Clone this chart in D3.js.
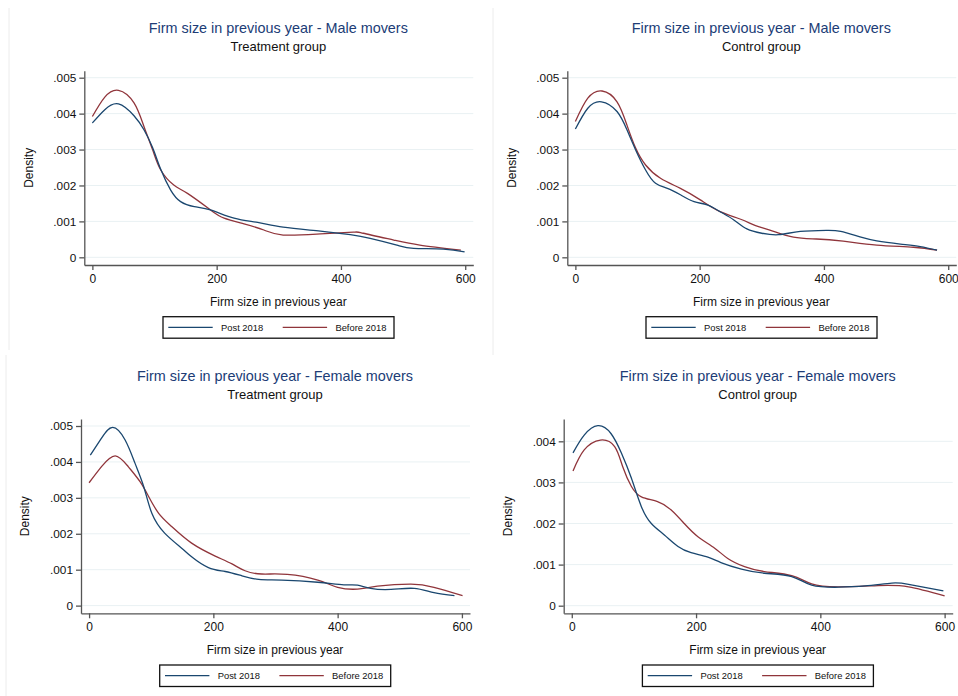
<!DOCTYPE html>
<meta charset="utf-8">
<style>
body { margin: 0; background: #fff; }
text { font-family: "Liberation Sans", Arial, sans-serif; fill: #111; }
.grid line { stroke: #e9f1f3; stroke-width: 1px; }
.axis path, .axis line { stroke: #555; stroke-width: 1.3px; }
.title { fill: #203c76; font-size: 14.4px; text-anchor: middle; }
.subtitle { font-size: 13px; text-anchor: middle; }
.axlab { font-size: 12px; text-anchor: middle; }
.legend text { font-size: 9.4px; }
</style>
<svg width="958" height="696"></svg>
<script src="https://d3js.org/d3.v7.min.js"></script>
<script>

// densities: [firm size, density]
var maleTreatPost = [[0,.00374],[20,.00411],[42,.00427],[67,.00394],[83,.00355],[97,.00305],[110,.00245],[126,.00187],[142,.00155],[164,.00141],[190,.00132],[228,.00109],[266,.00097],[307,.00084],[367,.00073],[415,.00063],[447,.00053],[490,.00034],[517,.00025],[565,.00023],[599,.00015]];
var maleTreatBefore = [[0,.00392],[20,.00446],[42,.00465],[67,.00430],[83,.00364],[97,.00299],[110,.00243],[131,.00201],[153,.00178],[190,.00132],[212,.00109],[244,.00093],[276,.00076],[307,.00062],[367,.00065],[420,.00070],[436,.00067],[485,.00048],[527,.00034],[593,.00020]];

var maleCtrlPost = [[0,.00357],[20,.00415],[42,.00433],[67,.00406],[83,.00355],[97,.00299],[113,.00243],[129,.00206],[148,.00192],[169,.00174],[191,.00155],[212,.00146],[233,.00127],[255,.00104],[276,.00079],[300,.00067],[327,.00063],[362,.00072],[405,.00075],[427,.00072],[458,.00057],[485,.00046],[523,.00037],[555,.00030],[582,.00020]];
var maleCtrlBefore = [[0,.00378],[20,.00443],[43,.00463],[67,.00433],[83,.00368],[97,.00304],[113,.00257],[137,.00220],[169,.00192],[201,.00160],[233,.00127],[266,.00106],[290,.00088],[313,.00076],[351,.00056],[388,.00051],[431,.00045],[485,.00034],[544,.00028],[582,.00020]];

var femTreatPost = [[2,.00419],[20,.00466],[38,.00496],[58,.00461],[74,.00396],[88,.00331],[101,.00257],[122,.00201],[149,.00160],[165,.00136],[192,.00106],[219,.00095],[246,.00083],[273,.00073],[310,.00071],[368,.00065],[410,.00058],[432,.00057],[453,.00048],[486,.00045],[523,.00048],[555,.00036],[588,.00028]];
var femTreatBefore = [[0,.00342],[20,.00387],[42,.00417],[63,.00387],[82,.00345],[96,.00303],[112,.00257],[133,.00220],[165,.00174],[203,.00138],[230,.00116],[251,.00097],[278,.00088],[319,.00087],[368,.00071],[400,.00051],[432,.00046],[464,.00054],[518,.00060],[555,.00051],[601,.00028]];

var femCtrlPost = [[2,.00372],[20,.00415],[42,.00438],[63,.00419],[80,.00371],[96,.00310],[112,.00241],[128,.00200],[149,.00172],[171,.00144],[192,.00129],[219,.00118],[240,.00105],[273,.00089],[310,.00079],[354,.00071],[386,.00050],[429,.00045],[472,.00048],[515,.00055],[542,.00052],[598,.00036]];
var femCtrlBefore = [[2,.00328],[20,.00379],[46,.00403],[69,.00387],[82,.00338],[96,.00290],[112,.00265],[138,.00253],[160,.00233],[181,.00200],[203,.00168],[230,.00140],[251,.00115],[278,.00095],[310,.00083],[354,.00073],[386,.00053],[429,.00046],[493,.00049],[542,.00046],[600,.00024]];

var xTicks = [0, 200, 400, 600];
var yTicks5 = [0, .001, .002, .003, .004, .005];
var yTicks4 = [0, .001, .002, .003, .004];
var seriesNames = ["Post 2018", "Before 2018"];

var panels = [
  {title: "Firm size in previous year - Male movers", sub: "Treatment group", post: maleTreatPost, before: maleTreatBefore,
   ticks: yTicks5, yDom: [-.000214, .005195], left: 84.3, top: 70.7},
  {title: "Firm size in previous year - Male movers", sub: "Control group", post: maleCtrlPost, before: maleCtrlBefore,
   ticks: yTicks5, yDom: [-.000214, .005195], left: 567.3, top: 70.7},
  {title: "Firm size in previous year - Female movers", sub: "Treatment group", post: femTreatPost, before: femTreatBefore,
   ticks: yTicks5, yDom: [-.000214, .005195], left: 81, top: 419},
  {title: "Firm size in previous year - Female movers", sub: "Control group", post: femCtrlPost, before: femCtrlBefore,
   ticks: yTicks4, yDom: [-.000185, .004543], left: 563.7, top: 419}
];

var W = 389, H = 194.3;
var blue = "#1a476f", red = "#90353b";
var svg = d3.select("svg");

// faint frames of the combined graphs
[[9, 8, 9, 350], [493, 8, 493, 355], [6, 355, 6, 696]].forEach(function(l) {
  svg.append("line").attr("x1", l[0]).attr("y1", l[1]).attr("x2", l[2]).attr("y2", l[3])
    .attr("stroke", "#ececec");
});

var yfmt = function(d) { return d === 0 ? "0" : d3.format(".3f")(d).replace(/^0/, ""); };

panels.forEach(function(p) {
  var g = svg.append("g").attr("transform", "translate(" + p.left + "," + p.top + ")");
  var x = d3.scaleLinear().domain([-13, 613]).range([0, W]);
  var y = d3.scaleLinear().domain(p.yDom).range([H, 0]);

  g.append("g").attr("class", "grid").selectAll("line")
    .data(p.ticks).enter().append("line")
    .attr("x1", 0).attr("x2", W)
    .attr("y1", function(d) { return y(d); }).attr("y2", function(d) { return y(d); });

  var line = d3.line()
    .x(function(d) { return x(d[0]); })
    .y(function(d) { return y(d[1]); })
    .curve(d3.curveNatural);

  g.append("path").datum(p.before).attr("d", line)
    .attr("fill", "none").attr("stroke", red).attr("stroke-width", 1.3);
  g.append("path").datum(p.post).attr("d", line)
    .attr("fill", "none").attr("stroke", blue).attr("stroke-width", 1.3);

  var ya = g.append("g").attr("class", "axis")
    .call(d3.axisLeft(y).tickValues(p.ticks).tickFormat(yfmt).tickSize(5).tickSizeOuter(0).tickPadding(3));
  ya.selectAll("text").attr("font-size", "11.8px").attr("fill", "#111");

  var xa = g.append("g").attr("class", "axis").attr("transform", "translate(0," + H + ")")
    .call(d3.axisBottom(x).tickValues(xTicks).tickSize(5).tickSizeOuter(0).tickPadding(4));
  xa.selectAll("text").attr("font-size", "12px").attr("fill", "#111");

  g.append("text").attr("class", "title").attr("x", 194).attr("y", -43).attr("dy", "0.35em").text(p.title);
  g.append("text").attr("class", "subtitle").attr("x", 194).attr("y", -24.5).attr("dy", "0.35em").text(p.sub);
  g.append("text").attr("class", "axlab").attr("x", 194).attr("y", 231).attr("dy", "0.35em")
    .text("Firm size in previous year");
  g.append("text").attr("class", "axlab")
    .attr("transform", "translate(-56," + (H / 2) + ") rotate(-90)").attr("dy", "0.35em")
    .text("Density");

  var lg = g.append("g").attr("class", "legend").attr("transform", "translate(78.7,246)");
  lg.append("rect").attr("width", 231).attr("height", 21.5)
    .attr("fill", "#fff").attr("stroke", "#111").attr("stroke-width", 1.3);
  [blue, red].forEach(function(c, i) {
    var ox = i * 114.4;
    lg.append("line").attr("x1", 5.3 + ox).attr("x2", 49.7 + ox).attr("y1", 10.7).attr("y2", 10.7)
      .attr("stroke", c).attr("stroke-width", 1.3);
    lg.append("text").attr("x", 58 + ox).attr("y", 10.7).attr("dy", "0.35em").text(seriesNames[i]);
  });
});

</script>
